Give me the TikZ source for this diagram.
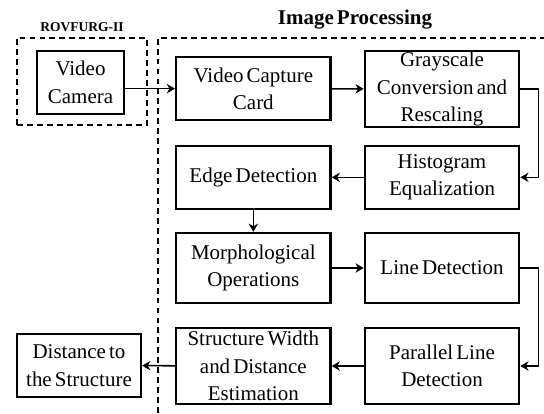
\documentclass[tikz,border=0pt]{standalone}
\usepackage{fontspec}
\setmainfont[WordSpace=0.6]{Liberation Serif}
\usetikzlibrary{arrows.meta}

\begin{document}
\begin{tikzpicture}[
  block/.style={draw,line width=2pt,align=center,inner sep=1pt,
    minimum width=4.63cm,font=\fontsize{17.9}{23.5}\selectfont},
  link/.style={line width=1.3pt,-{Stealth[length=7pt,width=8pt]}},
  group/.style={line width=1.6pt,dash pattern=on 5pt off 3.5pt}]

\useasboundingbox (0,0) rectangle (16.32,12.39);

% group boxes
\draw[group] (0.51,8.64) rectangle (4.41,11.25);
\draw[group] (4.74,0) -- (4.74,11.25) -- (16.4,11.25);
\node[font=\fontsize{11.5}{13}\selectfont\bfseries] (rov) at (2.46,11.58) {ROVFURG-II};
\node[font=\fontsize{17.9}{23}\selectfont\bfseries] (ip) at (10.65,11.79) {Image Processing};

% vehicle side
\node[block,minimum width=2.61cm,minimum height=1.89cm] (cam) at (2.415,9.915) {Video\\Camera};

% first row
\node[block,minimum height=1.89cm] (vcc) at (7.6,9.73) {Video Capture\\Card};
\node[block,minimum height=2.22cm] (gray) at (13.26,9.72) {Grayscale\\Conversion and\\Rescaling};

% second row
\node[block,minimum height=1.89cm] (hist) at (13.26,7.07) {Histogram\\Equalization};
\node[block,minimum height=1.89cm] (edge) at (7.6,7.07) {Edge Detection};

% third row
\node[block,minimum height=2.1cm] (morph) at (7.6,4.35) {Morphological\\Operations};
\node[block,minimum height=2.1cm] (line) at (13.26,4.35) {Line Detection};

% fourth row
\node[block,minimum height=2.28cm] (par) at (13.26,1.41) {Parallel Line\\Detection};
\node[block,minimum height=2.28cm] (struct) at (7.6,1.41) {Structure Width\\and Distance\\Estimation};

% output
\node[block,minimum width=3.72cm,minimum height=1.89cm] (dist) at (2.37,1.425) {Distance to\\the Structure};

% connections
\draw[link] (cam.east |- vcc) -- (vcc);
\draw[link] (vcc) -- (gray);
\draw[link] (gray.east) -- ++(0.54,0) |- (hist.east);
\draw[link] (hist) -- (edge);
\draw[link] (edge) -- (morph);
\draw[link] (morph) -- (line);
\draw[link] (line.east) -- ++(0.54,0) |- (par.east);
\draw[link] (par) -- (struct);
\draw[link] (struct) -- (dist);
\end{tikzpicture}
\end{document}
